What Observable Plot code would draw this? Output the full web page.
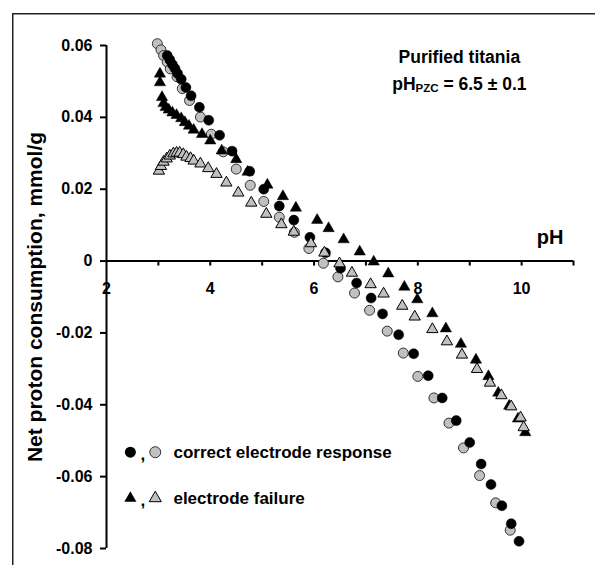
<!DOCTYPE html>
<html><head><meta charset="utf-8">
<script src="https://cdn.jsdelivr.net/npm/d3@7"></script>
<script src="https://cdn.jsdelivr.net/npm/@observablehq/plot@0.6"></script>
<style>
html,body{margin:0;padding:0;background:#fff;}
#wrap{position:relative;width:595px;height:565px;overflow:hidden;}
</style></head>
<body><div id="wrap"></div>
<script>
// axes
const xDomain = [2, 11];
const yDomain = [-0.08, 0.06];
const xTicks = [3, 4, 5, 6, 7, 8, 9, 10, 11];
const xLabelValues = [2, 4, 6, 8, 10];
const xTickLabels = ["2", "4", "6", "8", "10"];
const yTicks = [0.06, 0.04, 0.02, 0, -0.02, -0.04, -0.06, -0.08];
const yTickLabels = ["0.06", "0.04", "0.02", "0", "-0.02", "-0.04", "-0.06", "-0.08"];
const xTitle = "pH";
const yTitle = "Net proton consumption, mmol/g";
const noteLine1 = "Purified titania";
const noteLine2 = "pHPZC = 6.5 ± 0.1";
const legendLabels = ["correct electrode response", "electrode failure"];

// correct electrode response, black circles
const blackCirclePH = [3.17,3.22,3.27,3.32,3.37,3.44,3.53,3.63,3.79,3.97,4.18,4.42,4.76,5.03,5.33,5.61,5.92,6.22,6.51,6.82,7.10,7.32,7.63,7.92,8.20,8.47,8.74,9.00,9.22,9.41,9.62,9.80,9.95];
const blackCircleQ = [0.0572,0.0560,0.0547,0.0536,0.0522,0.0506,0.0483,0.0460,0.0428,0.0392,0.0350,0.0306,0.0250,0.0200,0.0153,0.0114,0.0066,0.0023,-0.0020,-0.0061,-0.0103,-0.0147,-0.0205,-0.0258,-0.0319,-0.0381,-0.0444,-0.0505,-0.0565,-0.0622,-0.0681,-0.0731,-0.0780];
// correct electrode response, grey circles
const greyCirclePH = [2.98,3.05,3.10,3.17,3.23,3.36,3.46,3.60,3.81,4.02,4.25,4.50,4.77,5.03,5.33,5.62,5.90,6.18,6.46,6.78,7.07,7.41,7.72,8.00,8.31,8.60,8.88,9.19,9.50,9.78];
const greyCircleQ = [0.0605,0.0588,0.0572,0.0554,0.0535,0.0513,0.0480,0.0447,0.0401,0.0353,0.0304,0.0256,0.0211,0.0166,0.0122,0.0080,0.0035,-0.0006,-0.0044,-0.0089,-0.0137,-0.0195,-0.0256,-0.0321,-0.0381,-0.0451,-0.0520,-0.0597,-0.0673,-0.0749];
// electrode failure, black triangles
const blackTrianglePH = [3.03,3.03,3.07,3.10,3.14,3.20,3.27,3.35,3.44,3.51,3.59,3.68,3.84,4.00,4.22,4.50,4.72,5.10,5.40,5.65,6.06,6.28,6.57,6.88,7.15,7.43,7.74,7.99,8.28,8.54,8.83,9.12,9.36,9.55,9.76,9.93,10.07];
const blackTriangleQ = [0.0521,0.0497,0.0456,0.0439,0.0428,0.0421,0.0413,0.0406,0.0397,0.0386,0.0376,0.0365,0.0353,0.0335,0.0307,0.0283,0.0248,0.0212,0.0180,0.0148,0.0114,0.0091,0.0060,0.0026,-0.0002,-0.0035,-0.0072,-0.0107,-0.0146,-0.0188,-0.0231,-0.0275,-0.0321,-0.0367,-0.0403,-0.0439,-0.0477];
// electrode failure, grey triangles
const greyTrianglePH = [3.01,3.05,3.10,3.16,3.22,3.29,3.35,3.41,3.48,3.54,3.62,3.68,3.81,3.96,4.12,4.31,4.54,4.79,5.08,5.37,5.61,5.94,6.20,6.49,6.73,7.09,7.34,7.70,7.94,8.28,8.56,8.85,9.14,9.39,9.61,9.80,9.98,10.04];
const greyTriangleQ = [0.0251,0.0264,0.0276,0.0285,0.0293,0.0299,0.0301,0.0301,0.0297,0.0290,0.0286,0.0279,0.0271,0.0258,0.0242,0.0218,0.0190,0.0162,0.0131,0.0102,0.0081,0.0049,0.0023,-0.0007,-0.0033,-0.0065,-0.0091,-0.0125,-0.0155,-0.0190,-0.0224,-0.0261,-0.0301,-0.0339,-0.0374,-0.0405,-0.0436,-0.0463];

const zip = (xs, ys) => xs.map((x, i) => ({pH: x, q: ys[i]}));
const blackCircles = zip(blackCirclePH, blackCircleQ);
const greyCircles = zip(greyCirclePH, greyCircleQ);
const blackTriangles = zip(blackTrianglePH, blackTriangleQ);
const greyTriangles = zip(greyTrianglePH, greyTriangleQ);

const W = 595, H = 565, mL = 106, mR = 22, mT = 45, mB = 17;
const pxPerX = (W - mL - mR) / (xDomain[1] - xDomain[0]);
const pxPerY = (H - mT - mB) / (yDomain[1] - yDomain[0]);
const tickDown = 5 / pxPerY;
const tickLeft = 6 / pxPerX;

const black = "#000", grey = "#c0c0c0", edge = "#333";
const font = 16;

// annotation & legend placement (in data units)
const notePos = {x: 8.8, y1: 0.0568, y2: 0.0493};
const xTitlePos = {x: 10.55, y: 0.0064};
const legend = {xMarkA: 2.46, xComma: 2.70, xMarkB: 2.94, xText: 3.29, rows: [-0.0532, -0.066]};

const svg = Plot.plot({
  width: W, height: H,
  marginLeft: mL, marginRight: mR, marginTop: mT, marginBottom: mB,
  x: {domain: xDomain, axis: null},
  y: {domain: yDomain, axis: null},
  style: {fontFamily: "'Liberation Sans', Arial, sans-serif", fontWeight: "bold", color: "#000", background: "#fff"},
  marks: [
    // axes
    Plot.ruleY([0], {x1: xDomain[0], x2: xDomain[1], stroke: black, strokeWidth: 2}),
    Plot.ruleX([xDomain[0]], {y1: yDomain[0], y2: yDomain[1], stroke: black, strokeWidth: 2}),
    Plot.ruleX(xTicks, {x: d => d, y1: 0, y2: -tickDown, stroke: black, strokeWidth: 2}),
    Plot.ruleY(yTicks, {y: d => d, x1: xDomain[0] - tickLeft, x2: xDomain[0], stroke: black, strokeWidth: 2}),
    Plot.text(xLabelValues, {x: d => d, y: 0, dy: 28, text: (d, i) => xTickLabels[i], fontSize: font, fontWeight: "bold"}),
    Plot.text(yTicks, {x: xDomain[0], y: d => d, dx: -14, text: (d, i) => yTickLabels[i], textAnchor: "end", fontSize: font, fontWeight: "bold"}),
    Plot.text([yTitle], {frameAnchor: "left", textAnchor: "middle", dx: -71, rotate: -90, fontSize: 21, fontWeight: "bold"}),
    Plot.text([xTitle], {x: xTitlePos.x, y: xTitlePos.y, fontSize: 20, fontWeight: "bold"}),
    // annotation
    Plot.text([noteLine1], {x: notePos.x, y: notePos.y1, fontSize: 17.5, fontWeight: "bold"}),
    Plot.text([noteLine2], {x: notePos.x, y: notePos.y2, fontSize: 17.5, fontWeight: "bold"}),
    // data
    Plot.dot(greyCircles, {x: "pH", y: "q", r: 5, fill: grey, stroke: edge, strokeWidth: 1}),
    Plot.dot(blackCircles, {x: "pH", y: "q", r: 5, fill: black, stroke: black, strokeWidth: 0.5}),
    Plot.dot(blackTriangles, {x: "pH", y: "q", r: 4.2, symbol: "triangle", fill: black, stroke: black, strokeWidth: 0.5}),
    Plot.dot(greyTriangles, {x: "pH", y: "q", r: 4.2, symbol: "triangle", fill: grey, stroke: black, strokeWidth: 1}),
    // legend
    Plot.dot([legend.rows[0]], {x: legend.xMarkA, y: d => d, r: 5.5, fill: black}),
    Plot.dot([legend.rows[0]], {x: legend.xMarkB, y: d => d, r: 5.5, fill: grey, stroke: edge, strokeWidth: 1}),
    Plot.dot([legend.rows[1]], {x: legend.xMarkA, y: d => d, r: 4.5, symbol: "triangle", fill: black}),
    Plot.dot([legend.rows[1]], {x: legend.xMarkB, y: d => d, r: 4.5, symbol: "triangle", fill: grey, stroke: black, strokeWidth: 1}),
    Plot.text(legend.rows, {x: legend.xComma, y: d => d, text: () => ",", fontSize: 17, fontWeight: "bold", dy: 2}),
    Plot.text(legend.rows, {x: legend.xText, y: d => d, text: (d, i) => legendLabels[i], textAnchor: "start", fontSize: 17, fontWeight: "bold"})
  ]
});

// subscript for pH_PZC
d3.select(svg).selectAll("text").filter(function() { return this.textContent === noteLine2; }).each(function() {
  const t = d3.select(this);
  t.text(null);
  t.append("tspan").text("pH");
  t.append("tspan").attr("font-size", "11.5px").attr("dy", "2px").text("PZC");
  t.append("tspan").attr("dy", "-2px").text(" = 6.5 ± 0.1");
});

// outer frame of the figure (open to the right and bottom edges)
d3.select(svg).append("rect")
  .attr("x", 12.75).attr("y", 13.75).attr("width", 700).attr("height", 700)
  .attr("fill", "none").attr("stroke", "#222").attr("stroke-width", 1.5);

document.getElementById("wrap").appendChild(svg);
</script>
</body></html>
